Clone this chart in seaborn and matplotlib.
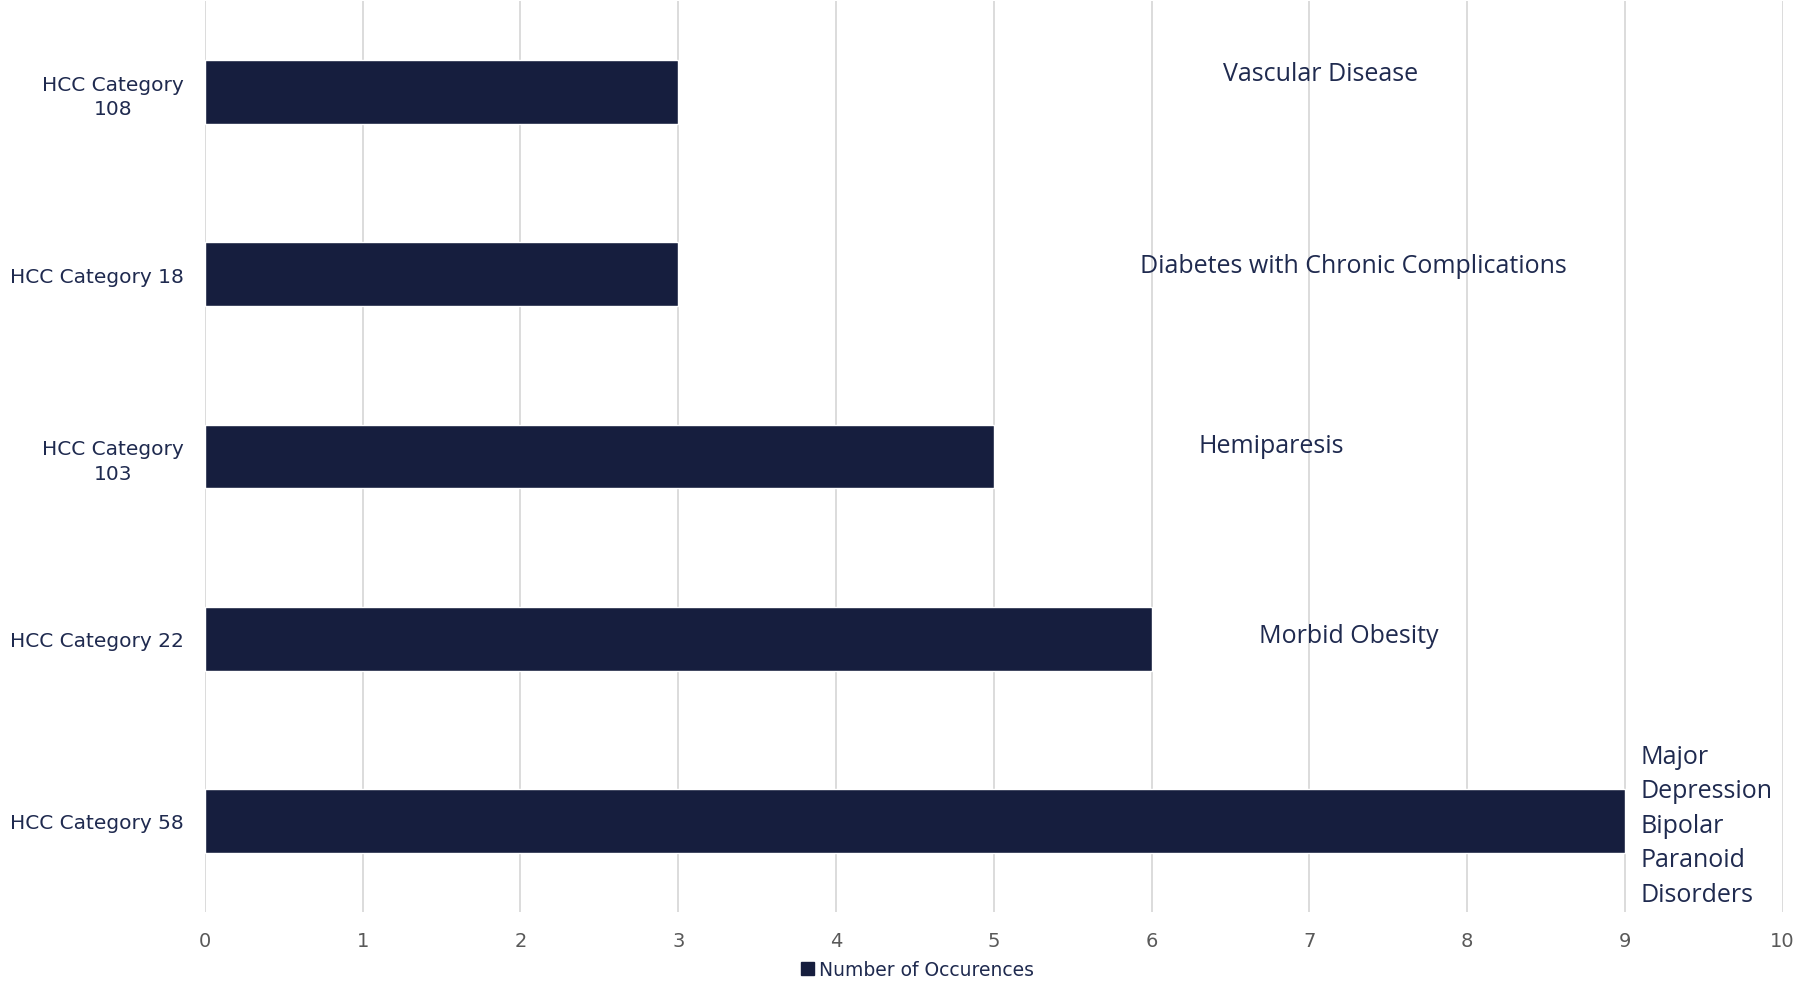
import seaborn as sns
import pandas as pd
import matplotlib.pyplot as plt
from matplotlib.patches import Patch

categories = ["HCC Category\n108", "HCC Category 18", "HCC Category\n103",
              "HCC Category 22", "HCC Category 58"]
occurrences = [3, 3, 5, 6, 9]
notes = ["Vascular Disease", "Diabetes with Chronic Complications", "Hemiparesis",
         "Morbid Obesity", "Major\nDepression\nBipolar\nParanoid\nDisorders"]
note_x = [7.07, 7.28, 6.76, 7.25, 9.1]
note_dy = [-0.1, -0.05, -0.06, -0.02, 0.025]

navy = "#161E3E"
text_navy = "#1F2A4F"

df = pd.DataFrame({"category": categories, "count": occurrences})

sns.set_style("white")
plt.rcParams['font.family'] = ['DejaVu Sans']

fig = plt.figure(figsize=(18.06, 9.87), dpi=100)
ax = fig.add_axes([0.1135, 0.075, 0.8735, 0.923])

sns.barplot(data=df, x="count", y="category", color=navy, width=0.35,
            saturation=1, orient="h", ax=ax)

ax.set_xlim(0, 10)
ax.set_ylim(4.5, -0.5)
ax.set_xticks(range(11))
ax.xaxis.grid(True, color="#D9D9D9", linewidth=1.3)
ax.set_axisbelow(True)
for s in ax.spines.values():
    s.set_visible(False)
ax.tick_params(axis="x", length=0, pad=14, labelsize=14, labelcolor="#595959")
ax.tick_params(axis="y", length=0, pad=15, labelsize=14.5, labelcolor=text_navy)
for lbl in ax.get_yticklabels():
    lbl.set_horizontalalignment("right")
    lbl.set_multialignment("center")
    lbl.set_linespacing(1.35)
ax.set_xlabel("")
ax.set_ylabel("")

for i, (t, x, dy) in enumerate(zip(notes, note_x, note_dy)):
    ha = "left" if "\n" in t else "center"
    ax.text(x, i + dy, t, ha=ha, va="center", fontsize=18, color=text_navy,
            family=["Open Sans", "DejaVu Sans"], linespacing=1.5)

handle = Patch(facecolor=navy, edgecolor=navy)
fig.legend([handle], ["Number of Occurences"], loc="center", bbox_to_anchor=(0.508, 0.017),
           frameon=False, fontsize=13.5, labelcolor=text_navy, handlelength=0.7,
           handleheight=0.7, handletextpad=0.3)

fig.savefig("out.png", dpi=100)
